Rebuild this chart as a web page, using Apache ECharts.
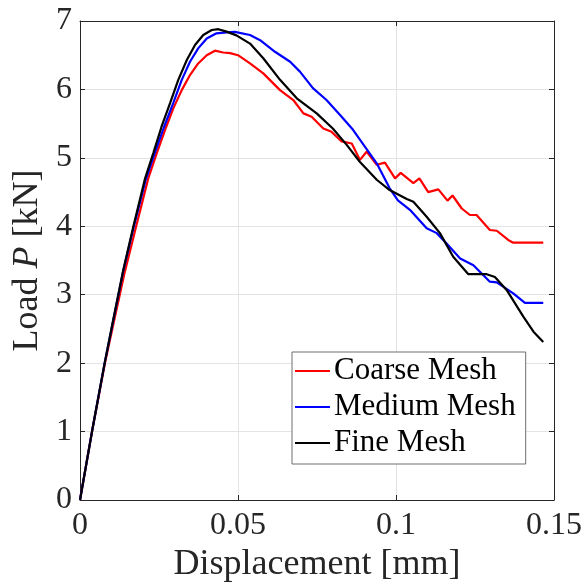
<!DOCTYPE html>
<html>
<head>
<meta charset="utf-8">
<script src="https://cdn.jsdelivr.net/npm/echarts@6/dist/echarts.min.js"></script>
<style>
html,body{margin:0;padding:0;background:#fff;}
#chart{width:587px;height:588px;}
</style>
</head>
<body>
<div id="chart"></div>
<script>
// ---- data (displacement in mm, load in kN) ----
var coarseX = [0,0.0038,0.0079,0.0107,0.014,0.0175,0.0216,0.0243,0.0269,0.0295,0.0322,0.0348,0.0374,0.0401,0.0427,0.0453,0.0475,0.050,0.0538,0.058,0.0633,0.0675,0.0707,0.0733,0.077,0.0796,0.0828,0.086,0.0886,0.0907,0.0939,0.0965,0.0997,0.1015,0.1055,0.1074,0.1102,0.1134,0.1163,0.1179,0.1208,0.1234,0.1255,0.1297,0.1319,0.1355,0.1371,0.1466];
var coarseY = [0,1,2,2.6,3.3,3.95,4.70,5.07,5.407,5.72,5.99,6.21,6.38,6.50,6.566,6.54,6.53,6.50,6.38,6.235,5.99,5.845,5.65,5.60,5.43,5.38,5.24,5.21,4.97,5.09,4.90,4.93,4.70,4.78,4.63,4.70,4.50,4.54,4.375,4.45,4.26,4.165,4.165,3.946,3.935,3.80,3.76,3.76];

var mediumX = [0,0.0038,0.0078,0.0105,0.0137,0.017,0.0208,0.0236,0.0265,0.0295,0.0322,0.0348,0.0374,0.0401,0.0432,0.0464,0.049,0.0538,0.057,0.0617,0.0665,0.0696,0.0737,0.078,0.0823,0.0864,0.0902,0.0939,0.098,0.1006,0.1044,0.1097,0.1129,0.116,0.1203,0.1245,0.1297,0.1319,0.1371,0.1408,0.1466];
var mediumY = [0,1,2,2.62,3.35,3.99,4.68,5.06,5.44,5.80,6.14,6.405,6.60,6.745,6.82,6.835,6.84,6.795,6.72,6.55,6.405,6.26,6.02,5.845,5.626,5.41,5.16,4.92,4.555,4.38,4.24,3.97,3.90,3.75,3.53,3.43,3.19,3.18,3.02,2.88,2.88];

var fineX = [0,0.0038,0.0078,0.0105,0.0137,0.0169,0.0206,0.0232,0.0258,0.0285,0.0311,0.0338,0.0364,0.039,0.0417,0.0438,0.0464,0.0495,0.0538,0.058,0.0633,0.0686,0.0749,0.080,0.0844,0.0886,0.0939,0.098,0.1034,0.1055,0.1097,0.1139,0.1181,0.1229,0.1287,0.1313,0.135,0.1403,0.1435,0.1466];
var fineY = [0,1,2,2.63,3.36,4.0,4.70,5.07,5.455,5.80,6.14,6.43,6.65,6.795,6.868,6.88,6.845,6.79,6.67,6.455,6.14,5.87,5.65,5.43,5.19,4.94,4.68,4.53,4.40,4.36,4.14,3.90,3.555,3.30,3.30,3.26,3.07,2.68,2.46,2.31];

var seriesNames = ['Coarse Mesh','Medium Mesh','Fine Mesh'];
var seriesColors = ['#ff0000','#0000ff','#000000'];
var xTicks = [0,0.05,0.1,0.15];
var yTicks = [0,1,2,3,4,5,6,7];

function pairs(xs, ys){ var out=[]; for(var i=0;i<xs.length;i++){ out.push([xs[i], ys[i]]); } return out; }

var serif = '"Liberation Serif","DejaVu Serif",serif';
var axisColor = '#262626';
var gridColor = '#e3e3e3';
var lineIcon = 'path://M0,0L35,0L35,2L0,2Z';

var chart = echarts.init(document.getElementById('chart'), null, {renderer:'canvas'});

var baseX = {
  type:'value', min:xTicks[0], max:xTicks[xTicks.length-1], interval:0.05,
  axisLine:{show:true, onZero:false, lineStyle:{color:axisColor, width:1}},
  axisTick:{show:true, inside:true, length:5, lineStyle:{color:axisColor}},
  splitLine:{show:false}
};
var baseY = {
  type:'value', min:yTicks[0], max:yTicks[yTicks.length-1], interval:1,
  axisLine:{show:true, onZero:false, lineStyle:{color:axisColor, width:1}},
  axisTick:{show:true, inside:true, length:5, lineStyle:{color:axisColor}},
  splitLine:{show:false}
};

var option = {
  animation:false,
  backgroundColor:'#ffffff',
  grid:{left:80, top:21, right:33, bottom:88, containLabel:false},
  legend:{
    orient:'vertical', left:292, top:352,
    data:seriesNames.map(function(n){ return {name:n, icon:lineIcon}; }),
    itemWidth:35, itemHeight:2, itemGap:0,
    padding:[1,10,3,3],
    backgroundColor:'#ffffff', borderColor:'#6e6e6e', borderWidth:1, borderRadius:0,
    textStyle:{fontFamily:serif, fontSize:31, color:'#000', lineHeight:36, padding:[0,0,0,-1]}
  },
  xAxis:[
    Object.assign({}, baseX, {
      position:'bottom',
      axisLabel:{show:true, margin:10, fontFamily:serif, fontSize:32, color:axisColor,
        formatter:function(v){ return String(v); }},
      splitLine:{show:true, lineStyle:{color:gridColor, width:1}},
      name:'Displacement [mm]', nameLocation:'middle', nameGap:46,
      nameTextStyle:{fontFamily:serif, fontSize:36, color:axisColor}
    }),
    Object.assign({}, baseX, {position:'top', axisLabel:{show:false}})
  ],
  yAxis:[
    Object.assign({}, baseY, {
      position:'left',
      axisLabel:{show:true, margin:8, fontFamily:serif, fontSize:32, color:axisColor},
      splitLine:{show:true, lineStyle:{color:gridColor, width:1}},
      name:'Load {i|P} [kN]', nameLocation:'middle', nameGap:34,
      nameTextStyle:{fontFamily:serif, fontSize:36, color:axisColor,
        rich:{i:{fontFamily:serif, fontSize:36, fontStyle:'italic', color:axisColor}}}
    }),
    Object.assign({}, baseY, {position:'right', axisLabel:{show:false}})
  ],
  series:[
    {name:seriesNames[0], type:'line', data:pairs(coarseX, coarseY), symbol:'none', smooth:false,
      lineStyle:{color:seriesColors[0], width:2.2}, itemStyle:{color:seriesColors[0]}, z:3},
    {name:seriesNames[1], type:'line', data:pairs(mediumX, mediumY), symbol:'none', smooth:false,
      lineStyle:{color:seriesColors[1], width:2.2}, itemStyle:{color:seriesColors[1]}, z:4},
    {name:seriesNames[2], type:'line', data:pairs(fineX, fineY), symbol:'none', smooth:false,
      lineStyle:{color:seriesColors[2], width:2.2}, itemStyle:{color:seriesColors[2]}, z:5}
  ]
};
chart.setOption(option);
</script>
</body>
</html>
